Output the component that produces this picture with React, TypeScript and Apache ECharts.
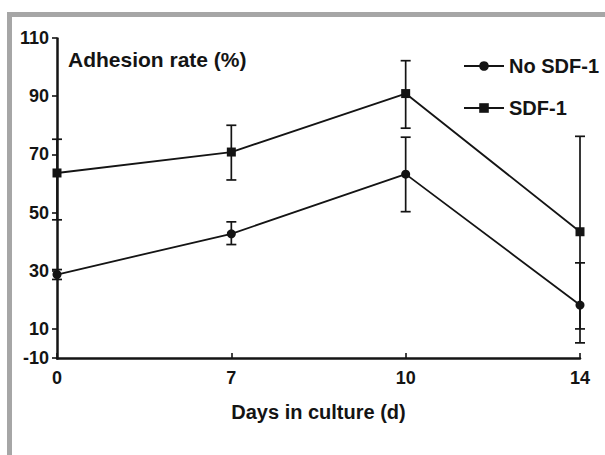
import React, { useEffect, useRef } from 'react';
import * as echarts from 'echarts';

const days = ['0', '7', '10', '14'];
const noSdfMean = [28.7, 42.7, 63.2, 18.2];
const noSdfLow = [27.0, 39.0, 50.3, 5.2];
const noSdfHigh = [30.4, 46.8, 75.9, 32.7];
const sdfMean = [63.6, 70.8, 90.9, 43.4];
const sdfLow = [47.5, 61.2, 79.0, 10.0];
const sdfHigh = [75.2, 80.0, 102.2, 76.2];
const yTickValues = [-10, 10, 30, 50, 70, 90, 110];

const FONT = '"Liberation Sans", Arial, sans-serif';
const INK = '#141414';

function errorSeries(low: number[], high: number[]) {
  return {
    type: 'custom',
    silent: true,
    z: 1,
    data: low.map((l, i) => [i, l, high[i]]),
    encode: { x: 0, y: [1, 2] },
    renderItem: (_params: any, api: any) => {
      const x = api.value(0);
      const lo = api.coord([x, api.value(1)]);
      const hi = api.coord([x, api.value(2)]);
      const hw = 5;
      const style = { stroke: INK, lineWidth: 1.7, fill: 'none' };
      return {
        type: 'group',
        children: [
          { type: 'line', shape: { x1: lo[0], y1: lo[1], x2: hi[0], y2: hi[1] }, style },
          { type: 'line', shape: { x1: lo[0] - hw, y1: lo[1], x2: lo[0] + hw, y2: lo[1] }, style },
          { type: 'line', shape: { x1: hi[0] - hw, y1: hi[1], x2: hi[0] + hw, y2: hi[1] }, style },
        ],
      };
    },
  };
}

export default function App() {
  const ref = useRef<HTMLDivElement>(null);
  useEffect(() => {
    if (!ref.current) return;
    const chart = echarts.init(ref.current, undefined, { renderer: 'svg' });
    chart.setOption({
      animation: false,
      backgroundColor: '#ffffff',
      graphic: [
        { type: 'rect', left: 7, top: 12, shape: { width: 598, height: 5 }, style: { fill: '#a6a6a6' }, silent: true },
        { type: 'rect', left: 7, top: 12, shape: { width: 5, height: 443 }, style: { fill: '#a6a6a6' }, silent: true },
      ],
      title: {
        text: 'Adhesion rate (%)',
        left: 68,
        top: 49,
        padding: 0,
        textStyle: { fontFamily: FONT, fontWeight: 'bold', fontSize: 21, color: INK },
      },
      legend: {
        data: ['No SDF-1', 'SDF-1'],
        orient: 'vertical',
        left: 463,
        top: 56,
        padding: 0,
        itemWidth: 40,
        itemHeight: 12,
        itemGap: 22,
        textStyle: { fontFamily: FONT, fontWeight: 'bold', fontSize: 20, color: INK },
      },
      grid: { left: 57, right: 25, top: 38, bottom: 97 },
      xAxis: {
        type: 'category',
        data: days,
        boundaryGap: false,
        name: 'Days in culture (d)',
        nameLocation: 'middle',
        nameGap: 44,
        nameTextStyle: { fontFamily: FONT, fontWeight: 'bold', fontSize: 20, color: INK },
        axisLine: { onZero: false, lineStyle: { color: INK, width: 2.5 } },
        axisTick: { inside: true, length: 5, lineStyle: { color: INK, width: 1.6 } },
        axisLabel: { margin: 11, fontFamily: FONT, fontWeight: 'bold', fontSize: 18, color: INK },
        splitLine: { show: false },
      },
      yAxis: {
        type: 'value',
        min: -10,
        max: 110,
        interval: 20,
        breaks: [{ start: -10, end: 0, gap: 0 }],
        breakArea: { show: false, expandOnClick: false },
        axisLine: { show: true, lineStyle: { color: INK, width: 2.5 } },
        axisTick: { show: true, length: 5, customValues: yTickValues, lineStyle: { color: INK, width: 1.6 } },
        axisLabel: {
          margin: 8,
          customValues: yTickValues,
          fontFamily: FONT,
          fontWeight: 'bold',
          fontSize: 18,
          color: INK,
        },
        splitLine: { show: false },
      },
      series: [
        errorSeries(noSdfLow, noSdfHigh),
        errorSeries(sdfLow, sdfHigh),
        {
          name: 'No SDF-1',
          type: 'line',
          data: noSdfMean,
          symbol: 'circle',
          symbolSize: 9,
          z: 3,
          lineStyle: { color: INK, width: 1.8 },
          itemStyle: { color: INK },
        },
        {
          name: 'SDF-1',
          type: 'line',
          data: sdfMean,
          symbol: 'rect',
          symbolSize: 9,
          z: 3,
          lineStyle: { color: INK, width: 1.8 },
          itemStyle: { color: INK },
        },
      ],
    });
    return () => chart.dispose();
  }, []);
  return (
    <div
      ref={ref}
      style={{ position: 'absolute', left: 0, top: 0, width: 605, height: 455 }}
    />
  );
}
